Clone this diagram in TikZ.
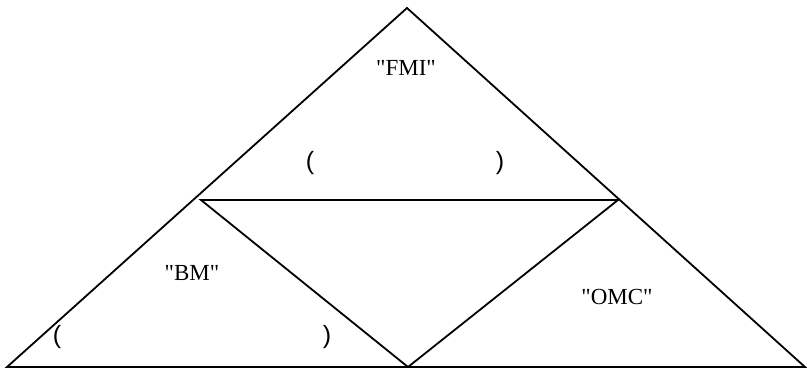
\documentclass[tikz,border=0pt]{standalone}
\usepackage{fontspec}
\setmainfont{Liberation Serif}[Ligatures=TeXOff]
\newfontfamily\parenfont{Liberation Sans}
\usepackage{tikz}

\begin{document}
\begin{tikzpicture}[x=1pt, y=-1pt, line join=miter, line width=1.8pt,
	lbl/.style={font=\fontsize{23}{27}\selectfont, inner sep=0pt},
	par/.style={font=\parenfont\fontsize{25}{29}\selectfont, inner sep=0pt}]
	\useasboundingbox (0,0) rectangle (807,370);
	% outer triangle
	\coordinate (apex) at (407,8);
	\coordinate (left) at (7,367);
	\coordinate (right) at (805,367);
	% inner triangle
	\coordinate (inl) at (201,200);
	\coordinate (inr) at (618,200);
	\coordinate (inb) at (408,367);
	\draw (left) -- (apex) -- (right) -- cycle;
	\draw (inl) -- (inr) -- (inb) -- cycle;
	
	% labels
	\node[lbl] (fmi) at (406,68) {"FMI"};
	\node[par] (fmiL) at (310,163) {(};
	\node[par] (fmiR) at (500,163) {)};
	\node[lbl] (bm) at (192,273) {"BM"};
	\node[par] (bmL) at (57,337) {(};
	\node[par] (bmR) at (327,337) {)};
	\node[lbl] (omc) at (617,297) {"OMC"};
\end{tikzpicture}
\end{document}
